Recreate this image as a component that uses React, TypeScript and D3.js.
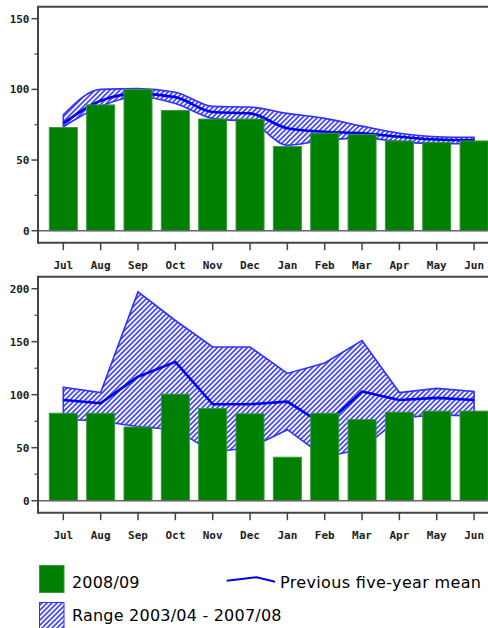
import React from "react";
import * as d3 from "d3";

const months = ["Jul", "Aug", "Sep", "Oct", "Nov", "Dec", "Jan", "Feb", "Mar", "Apr", "May", "Jun"];

// Top panel
const bars1 = [73, 89, 100, 85, 79, 79, 59.5, 69, 68, 63.5, 62.5, 63.5];
const mean1 = [76, 92, 97, 94.5, 84, 83, 72.5, 70, 69, 66.5, 64.5, 64];
const upper1 = [82, 100, 100.5, 98, 88, 87.5, 83, 79.5, 74, 69, 66.5, 66];
const lower1 = [73.5, 88, 95, 90, 79.5, 77, 60.5, 64, 65.5, 63, 61.5, 61.5];
const yTicks1 = [0, 50, 100, 150];
const yMinor1 = [25, 75, 125];

// Bottom panel
const bars2 = [82.5, 82.5, 69.5, 100.5, 87, 82, 41, 82.5, 76.5, 83.5, 84.5, 84.5];
const mean2 = [95, 92, 117, 131, 91, 91, 93.5, 71, 103, 95, 97, 95];
const upper2 = [107, 102, 197, 170, 145, 145, 120, 130, 151, 102, 106, 103];
const lower2 = [77, 75, 70, 67, 46, 50, 67, 41, 49, 78, 81, 80];
const yTicks2 = [0, 50, 100, 150, 200];
const yMinor2 = [25, 75, 125, 175];

const legendBar = "2008/09";
const legendRange = "Range 2003/04 - 2007/08";
const legendMean = "Previous five-year mean";

const W = 488;
const H = 628;
const LEFT = 38;
const AXIS_COL = "#444";
const TICK_FONT = "'DejaVu Sans Mono', monospace";

const x = d3
  .scaleBand<string>()
  .domain(months)
  .range([44.65, 492.75])
  .paddingInner(0.25)
  .paddingOuter(0.125);
const cx = (m: string) => (x(m) as number) + x.bandwidth() / 2;

type PanelProps = {
  frameTop: number;
  yMax: number;
  ticks: number[];
  minor: number[];
  bars: number[];
  mean: number[];
  upper: number[];
  lower: number[];
  curve: d3.CurveFactory;
};

function Panel({ frameTop, yMax, ticks, minor, bars, mean, upper, lower, curve }: PanelProps) {
  const axisY = frameTop + 236;
  const y = d3.scaleLinear().domain([0, yMax]).range([axisY - 12, frameTop + 12]);
  const area = d3
    .area<number>()
    .x((_, i) => cx(months[i]))
    .y0((_, i) => y(lower[i]))
    .y1((_, i) => y(upper[i]))
    .curve(curve);
  const line = d3
    .line<number>()
    .x((_, i) => cx(months[i]))
    .y((d) => y(d))
    .curve(curve);
  return (
    <g>
      <path d={area(upper) || ""} fill="url(#hatch)" stroke="#3030ff" strokeWidth={1.6} />
      <path d={line(mean) || ""} fill="none" stroke="#0000ee" strokeWidth={2.6} strokeLinejoin="round" />
      {bars.map((v, i) => (
        <rect
          key={i}
          x={x(months[i])}
          y={y(v)}
          width={x.bandwidth()}
          height={y(0) - y(v)}
          fill="#008000"
          stroke="#3c963c"
          strokeWidth={1}
        />
      ))}
      <line x1={LEFT + 1} x2={W} y1={y(0)} y2={y(0)} stroke="#666" strokeWidth={1.5} />
      <line x1={LEFT + 1} x2={W} y1={frameTop} y2={frameTop} stroke={AXIS_COL} strokeWidth={2} />
      <line x1={LEFT} x2={LEFT} y1={frameTop - 1} y2={axisY + 1} stroke={AXIS_COL} strokeWidth={2} />
      <line x1={LEFT} x2={W} y1={axisY} y2={axisY} stroke={AXIS_COL} strokeWidth={2} />
      {ticks.map((t) => (
        <g key={"t" + t}>
          <line x1={LEFT - 6.5} x2={LEFT} y1={y(t)} y2={y(t)} stroke={AXIS_COL} strokeWidth={1.5} />
          <text
            x={LEFT - 8.5}
            y={y(t)}
            dy="0.36em"
            textAnchor="end"
            fontFamily={TICK_FONT}
            fontWeight="bold"
            fontSize={11}
            fill="#222"
          >
            {t}
          </text>
        </g>
      ))}
      {minor.map((t) => (
        <line key={"m" + t} x1={LEFT - 3.5} x2={LEFT} y1={y(t)} y2={y(t)} stroke={AXIS_COL} strokeWidth={1.2} />
      ))}
      {months.map((m) => (
        <g key={m}>
          <line x1={cx(m)} x2={cx(m)} y1={axisY} y2={axisY + 7.5} stroke={AXIS_COL} strokeWidth={1.5} />
          <text
            x={cx(m)}
            y={axisY + 26.5}
            textAnchor="middle"
            fontFamily={TICK_FONT}
            fontWeight="bold"
            fontSize={11}
            fill="#222"
          >
            {m}
          </text>
        </g>
      ))}
    </g>
  );
}

export default function App() {
  return (
    <svg
      width={W}
      height={H}
      viewBox={`0 0 ${W} ${H}`}
      style={{ position: "absolute", left: 0, top: 0, background: "#fff" }}
    >
      <defs>
        <pattern id="hatch" patternUnits="userSpaceOnUse" width={5} height={5}>
          <rect width={5} height={5} fill="#fff" />
          <path d="M-1,6 L6,-1 M-1,1 L1,-1 M4,6 L6,4" stroke="#4a4aff" strokeWidth={1.8} />
        </pattern>
      </defs>
      <rect width={W} height={H} fill="#fff" />
      <Panel
        frameTop={6.7}
        yMax={150}
        ticks={yTicks1}
        minor={yMinor1}
        bars={bars1}
        mean={mean1}
        upper={upper1}
        lower={lower1}
        curve={d3.curveMonotoneX}
      />
      <Panel
        frameTop={276.7}
        yMax={200}
        ticks={yTicks2}
        minor={yMinor2}
        bars={bars2}
        mean={mean2}
        upper={upper2}
        lower={lower2}
        curve={d3.curveLinear}
      />
      <g fontFamily="'DejaVu Sans', sans-serif" fontSize={16} fill="#000">
        <rect x={39.5} y={565.5} width={24.5} height={27} fill="#008000" stroke="#3c963c" strokeWidth={1} />
        <text x={72} y={587.5} textLength={67.5} lengthAdjust="spacing">{legendBar}</text>
        <rect x={39.5} y={602.5} width={24.5} height={30} fill="url(#hatch)" stroke="#3030ff" strokeWidth={1} />
        <text x={72} y={620.5} textLength={209.5} lengthAdjust="spacing">{legendRange}</text>
        <path d="M226.7,580.7 L256.7,577.2 L275,581.7" fill="none" stroke="#0000ee" strokeWidth={2} />
        <text x={280} y={587.5} textLength={201} lengthAdjust="spacing">{legendMean}</text>
      </g>
    </svg>
  );
}
